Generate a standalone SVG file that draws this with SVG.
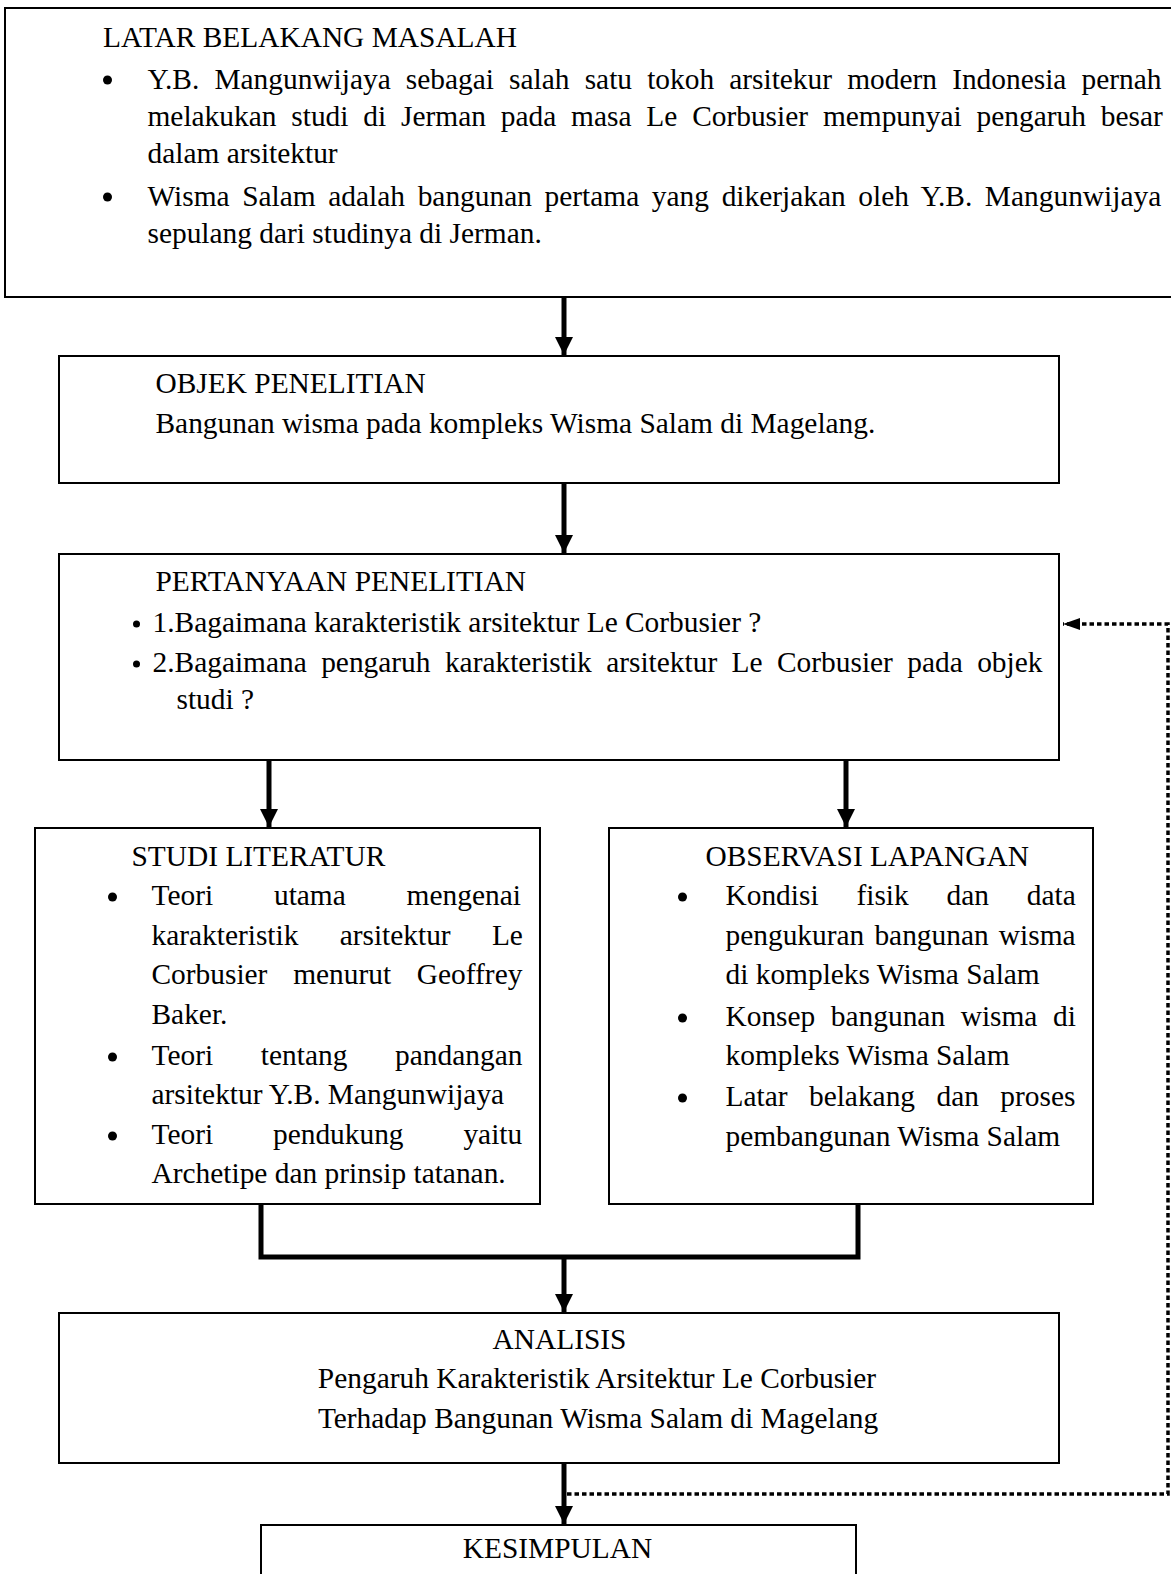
<svg xmlns="http://www.w3.org/2000/svg" width="1171" height="1574" viewBox="0 0 1171 1574">
<style>
.box{fill:#fff;stroke:#000;stroke-width:2}
.t{font-family:"Liberation Serif","Times New Roman",serif;font-size:29.4px;fill:#000}
.c{text-anchor:middle}
.shaft{stroke:#000;stroke-width:5;fill:none}
.dot{stroke:#000;stroke-width:3.5;fill:none;stroke-dasharray:4.5 3}
.b{fill:#000}
</style>
<defs>
<marker id="ah" markerUnits="userSpaceOnUse" markerWidth="18" markerHeight="18" viewBox="0 0 18 18" refX="18" refY="9" orient="auto">
<path d="M0,0 L18,9 L0,18 Z" fill="#000"/>
</marker>
<marker id="ahs" markerUnits="userSpaceOnUse" markerWidth="17" markerHeight="12" viewBox="0 0 17 12" refX="17" refY="6" orient="auto">
<path d="M0,0 L17,6 L0,12 Z" fill="#000"/>
</marker>
</defs>
<rect width="1171" height="1574" fill="#fff"/>

<g id="latar">
<rect class="box" x="5" y="8" width="1180" height="289"/>
<text class="t" x="103" y="47">LATAR BELAKANG MASALAH</text>
<circle class="b" cx="107.5" cy="80" r="4.5"/>
<text class="t" x="147.5" y="88.5" style="word-spacing:7.8px">Y.B. Mangunwijaya sebagai salah satu tokoh arsitekur modern Indonesia pernah</text>
<text class="t" x="147.5" y="125.5" style="word-spacing:7.5px">melakukan studi di Jerman pada masa Le Corbusier mempunyai pengaruh besar</text>
<text class="t" x="147.5" y="163">dalam arsitektur</text>
<circle class="b" cx="107.5" cy="197" r="4.5"/>
<text class="t" x="147.5" y="205.5" style="word-spacing:5.3px">Wisma Salam adalah bangunan pertama yang dikerjakan oleh Y.B. Mangunwijaya</text>
<text class="t" x="147.5" y="242.5">sepulang dari studinya di Jerman.</text>
</g>

<g id="objek">
<rect class="box" x="59" y="356" width="1000" height="127"/>
<text class="t" x="155.5" y="393">OBJEK PENELITIAN</text>
<text class="t" x="155.5" y="433">Bangunan wisma pada kompleks Wisma Salam di Magelang.</text>
</g>

<g id="pertanyaan">
<rect class="box" x="59" y="554" width="1000" height="206"/>
<text class="t" x="155.5" y="590.5">PERTANYAAN PENELITIAN</text>
<circle class="b" cx="136.5" cy="624" r="3.5"/>
<text class="t" x="152.5" y="632">1.Bagaimana karakteristik arsitektur Le Corbusier ?</text>
<circle class="b" cx="136.5" cy="664" r="3.5"/>
<text class="t" x="152.5" y="672" style="word-spacing:7.05px">2.Bagaimana pengaruh karakteristik arsitektur Le Corbusier pada objek</text>
<text class="t" x="176.5" y="709">studi ?</text>
</g>

<g id="studi-literatur">
<rect class="box" x="35" y="828" width="505" height="376"/>
<text class="t" x="131.5" y="866">STUDI LITERATUR</text>
<circle class="b" cx="112.5" cy="897" r="4.5"/>
<text class="t" x="151.5" y="905" style="word-spacing:53.5px">Teori utama mengenai</text>
<text class="t" x="151.5" y="945" style="word-spacing:33.9px">karakteristik arsitektur Le</text>
<text class="t" x="151.5" y="984" style="word-spacing:18.4px">Corbusier menurut Geoffrey</text>
<text class="t" x="151.5" y="1024">Baker.</text>
<circle class="b" cx="112.5" cy="1057" r="4.5"/>
<text class="t" x="151.5" y="1065" style="word-spacing:40.4px">Teori tentang pandangan</text>
<text class="t" x="151.5" y="1104">arsitektur Y.B. Mangunwijaya</text>
<circle class="b" cx="112.5" cy="1136" r="4.5"/>
<text class="t" x="151.5" y="1144" style="word-spacing:52.5px">Teori pendukung yaitu</text>
<text class="t" x="151.5" y="1183">Archetipe dan prinsip tatanan.</text>
</g>

<g id="observasi">
<rect class="box" x="609" y="828" width="484" height="376"/>
<text class="t" x="705.5" y="866">OBSERVASI LAPANGAN</text>
<circle class="b" cx="682.5" cy="897" r="4.5"/>
<text class="t" x="725.5" y="905" style="word-spacing:30.5px">Kondisi fisik dan data</text>
<text class="t" x="725.5" y="945" style="word-spacing:2.8px">pengukuran bangunan wisma</text>
<text class="t" x="725.5" y="984">di kompleks Wisma Salam</text>
<circle class="b" cx="682.5" cy="1018" r="4.5"/>
<text class="t" x="725.5" y="1026" style="word-spacing:8.2px">Konsep bangunan wisma di</text>
<text class="t" x="725.5" y="1065">kompleks Wisma Salam</text>
<circle class="b" cx="682.5" cy="1098" r="4.5"/>
<text class="t" x="725.5" y="1106" style="word-spacing:14.1px">Latar belakang dan proses</text>
<text class="t" x="725.5" y="1146">pembangunan Wisma Salam</text>
</g>

<g id="analisis">
<rect class="box" x="59" y="1313" width="1000" height="150"/>
<text class="t c" x="559.5" y="1349">ANALISIS</text>
<text class="t c" x="597" y="1388">Pengaruh Karakteristik Arsitektur Le Corbusier</text>
<text class="t c" x="598" y="1428">Terhadap Bangunan Wisma Salam di Magelang</text>
</g>

<g id="kesimpulan">
<rect class="box" x="261" y="1525" width="595" height="100"/>
<text class="t c" x="557.5" y="1558">KESIMPULAN</text>
</g>

<g id="connectors">
<line class="shaft" x1="564" y1="297" x2="564" y2="355" marker-end="url(#ah)"/>
<line class="shaft" x1="564" y1="483" x2="564" y2="553" marker-end="url(#ah)"/>
<line class="shaft" x1="269" y1="760" x2="269" y2="827" marker-end="url(#ah)"/>
<line class="shaft" x1="846" y1="760" x2="846" y2="827" marker-end="url(#ah)"/>
<path class="shaft" d="M261,1204 V1257 H858 V1204" stroke-width="6"/>
<line class="shaft" x1="564" y1="1257" x2="564" y2="1312" marker-end="url(#ah)"/>
<line class="shaft" x1="564" y1="1463" x2="564" y2="1524" marker-end="url(#ah)"/>
<path class="dot" d="M567,1494 H1168 V624 H1063" marker-end="url(#ahs)"/>
</g>
</svg>
